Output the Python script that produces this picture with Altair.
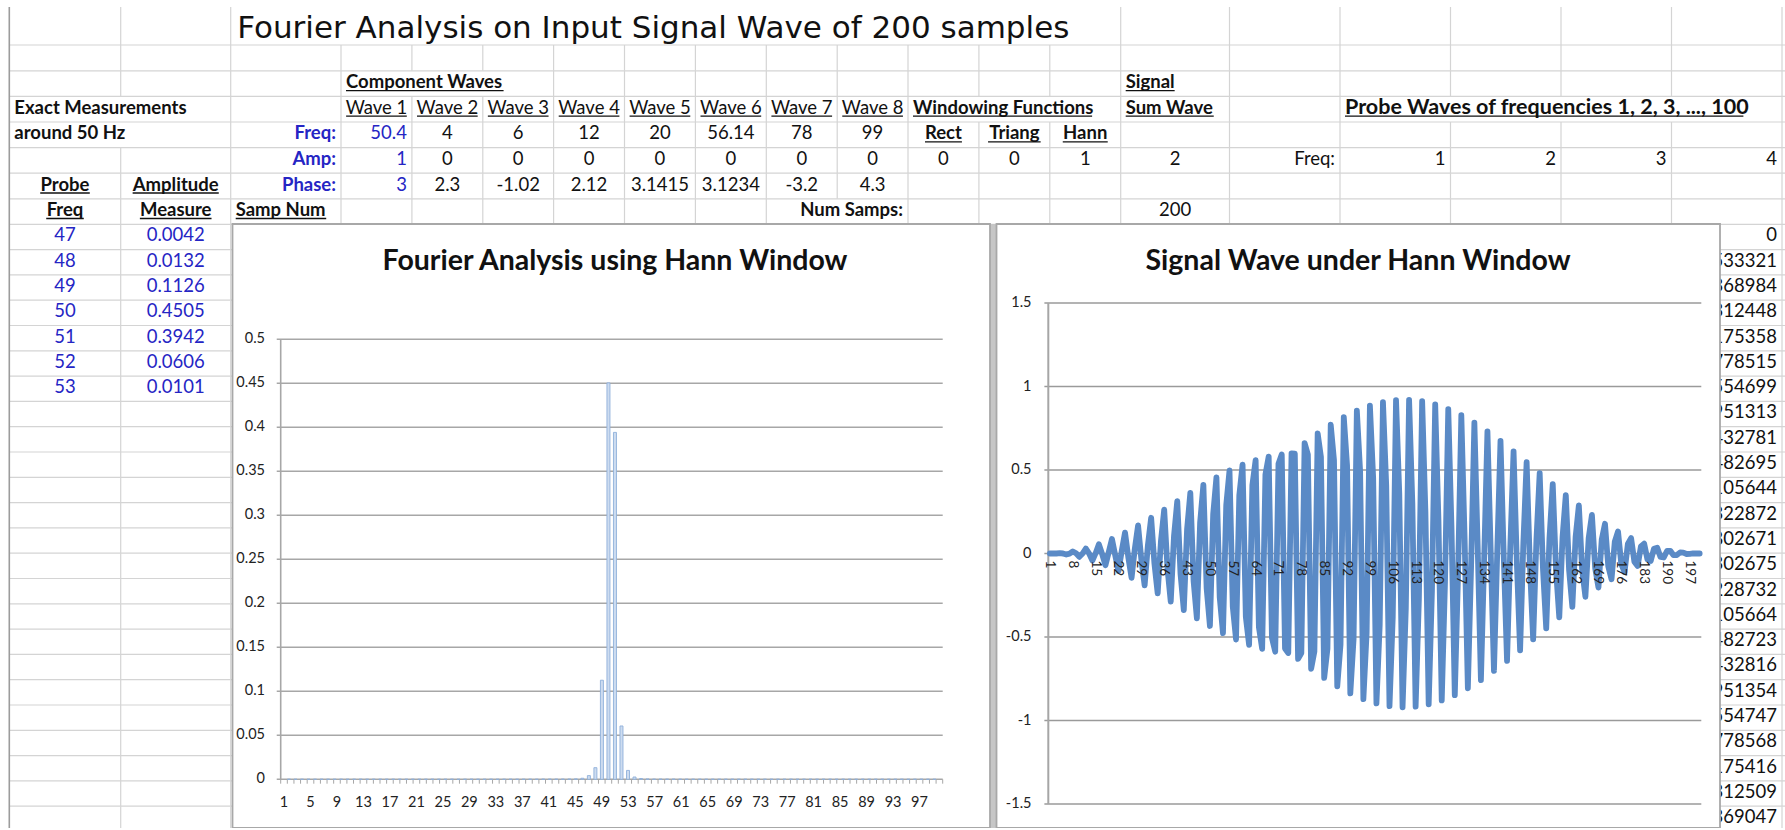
import altair as alt
import pandas as pd

# ------------------------------------------------------------------ data
TITLE = "Fourier Analysis on Input Signal Wave of 200 samples"
CHART1_TITLE = "Fourier Analysis using Hann Window"
CHART2_TITLE = "Signal Wave under Hann Window"

WAVE_NAMES = ["Wave 1", "Wave 2", "Wave 3", "Wave 4", "Wave 5", "Wave 6", "Wave 7", "Wave 8"]
WAVE_FREQ = ["50.4", "4", "6", "12", "20", "56.14", "78", "99"]
WAVE_AMP = ["1", "0", "0", "0", "0", "0", "0", "0"]
WAVE_PHASE = ["3", "2.3", "-1.02", "2.12", "3.1415", "3.1234", "-3.2", "4.3"]
WINDOW_NAMES = ["Rect", "Triang", "Hann"]
WINDOW_SEL = ["0", "0", "1"]
SUM_WAVE_SEL = "2"
NUM_SAMPS = "200"
PROBE_HEAD_FREQ = ["1", "2", "3", "4"]

PROBE_FREQ = ["47", "48", "49", "50", "51", "52", "53"]
AMP_MEASURE = ["0.0042", "0.0132", "0.1126", "0.4505", "0.3942", "0.0606", "0.0101"]

RIGHT_COL = ["0", "0.0533321", "0.0368984", "0.0312448", "0.0175358", "0.0778515",
             "0.0554699", "0.0951313", "0.0432781", "0.0482695", "0.0105644", "0.0322872",
             "0.0802671", "0.0302675", "0.0228732", "0.0105664", "0.0482723", "0.0432816",
             "0.0951354", "0.0554747", "0.0778568", "0.0175416", "0.0312509", "0.0369047"]

FOURIER_FREQ = list(range(1, 101))
FOURIER_AMP = [
    0.0001, 0.0001, 0.0001, 0.0001, 0.0001, 0.0001, 0.0001, 0.0001, 0.0001, 0.0001,
    0.0001, 0.0001, 0.0001, 0.0001, 0.0001, 0.0001, 0.0001, 0.0001, 0.0001, 0.0001,
    0.0001, 0.0001, 0.0001, 0.0001, 0.0001, 0.0001, 0.0001, 0.0001, 0.0001, 0.0001,
    0.0001, 0.0001, 0.0001, 0.0001, 0.0001, 0.0001, 0.0001, 0.0001, 0.0001, 0.0002,
    0.0002, 0.0002, 0.0002, 0.0003, 0.0005, 0.0012, 0.0042, 0.0132, 0.1126, 0.4505,
    0.3942, 0.0606, 0.0101, 0.0026, 0.0009, 0.0004, 0.0002, 0.0002, 0.0002, 0.0002,
    0.0001, 0.0001, 0.0001, 0.0001, 0.0001, 0.0001, 0.0001, 0.0001, 0.0001, 0.0001,
    0.0001, 0.0001, 0.0001, 0.0001, 0.0001, 0.0001, 0.0001, 0.0001, 0.0001, 0.0001,
    0.0001, 0.0001, 0.0001, 0.0001, 0.0001, 0.0001, 0.0001, 0.0001, 0.0001, 0.0001,
    0.0001, 0.0001, 0.0001, 0.0001, 0.0001, 0.0001, 0.0001, 0.0001, 0.0001, 0.0001,
]
FOURIER_Y_TICKS = [0, 0.05, 0.1, 0.15, 0.2, 0.25, 0.3, 0.35, 0.4, 0.45, 0.5]
FOURIER_Y_LABELS = ["0", "0.05", "0.1", "0.15", "0.2", "0.25", "0.3", "0.35", "0.4", "0.45", "0.5"]
FOURIER_X_LABELS = [1, 5, 9, 13, 17, 21, 25, 29, 33, 37, 41, 45, 49, 53, 57, 61, 65, 69,
                    73, 77, 81, 85, 89, 93, 97]

SAMPLE_NUM = list(range(1, 201))
SIGNAL = [
    0.000, -0.000, -0.000, 0.002, 0.000, -0.006, -0.001, 0.012,
    0.001, -0.020, -0.000, 0.030, -0.000, -0.042, 0.002, 0.055,
    -0.004, -0.070, 0.007, 0.087, -0.011, -0.105, 0.016, 0.125,
    -0.022, -0.146, 0.029, 0.168, -0.038, -0.191, 0.049, 0.214,
    -0.060, -0.239, 0.074, 0.263, -0.089, -0.288, 0.105, 0.314,
    -0.123, -0.339, 0.143, 0.363, -0.164, -0.388, 0.186, 0.411,
    -0.210, -0.434, 0.236, 0.456, -0.262, -0.477, 0.290, 0.497,
    -0.319, -0.515, 0.349, 0.532, -0.379, -0.547, 0.410, 0.559,
    -0.441, -0.571, 0.473, 0.580, -0.505, -0.588, 0.537, 0.593,
    -0.569, -0.596, 0.600, 0.598, -0.631, -0.596, 0.661, 0.593,
    -0.690, -0.587, 0.719, 0.579, -0.745, -0.570, 0.771, 0.558,
    -0.795, -0.545, 0.817, 0.529, -0.838, -0.512, 0.856, 0.493,
    -0.872, -0.473, 0.886, 0.451, -0.898, -0.429, 0.907, 0.405,
    -0.914, -0.380, 0.919, 0.355, -0.921, -0.328, 0.920, 0.302,
    -0.917, -0.275, 0.912, 0.249, -0.903, -0.222, 0.893, 0.195,
    -0.880, -0.170, 0.865, 0.144, -0.848, -0.119, 0.828, 0.096,
    -0.807, -0.073, 0.783, 0.051, -0.758, -0.031, 0.731, 0.011,
    -0.703, 0.006, 0.674, -0.023, -0.643, 0.037, 0.612, -0.051,
    -0.580, 0.062, 0.547, -0.072, -0.514, 0.080, 0.481, -0.087,
    -0.448, 0.092, 0.415, -0.096, -0.382, 0.098, 0.350, -0.098,
    -0.319, 0.098, 0.288, -0.096, -0.259, 0.092, 0.231, -0.088,
    -0.204, 0.083, 0.178, -0.077, -0.154, 0.071, 0.132, -0.064,
    -0.111, 0.057, 0.092, -0.049, -0.075, 0.042, 0.059, -0.035,
    -0.045, 0.028, 0.034, -0.021, -0.024, 0.015, 0.016, -0.010,
    -0.009, 0.006, 0.005, -0.003, -0.002, 0.001, 0.000, 0.000,
]
SIGNAL_Y_TICKS = [-1.5, -1, -0.5, 0, 0.5, 1, 1.5]
SIGNAL_Y_LABELS = ["-1.5", "-1", "-0.5", "0", "0.5", "1", "1.5"]
SIGNAL_X_LABELS = [1, 8, 15, 22, 29, 36, 43, 50, 57, 64, 71, 78, 85, 92, 99, 106, 113,
                   120, 127, 134, 141, 148, 155, 162, 169, 176, 183, 190, 197]

# ------------------------------------------------------------------ layout
W, H = 1785, 828
FONT = "Lato"
BLUE = "#2525c4"
BLACK = "#111111"
CELL_SIZE = 18.5

COL_EDGES = [9.3, 120.7, 230.7, 341.0, 411.9, 482.8, 553.6, 624.5, 695.4, 766.3,
             837.2, 908.0, 978.9, 1049.8, 1120.7, 1229.5, 1340.0, 1450.5, 1561.0,
             1671.5, 1782.0]
ROW_EDGES = [7.0, 45.0, 70.8, 96.4, 122.0, 147.6, 173.2, 198.8, 224.3]
while ROW_EDGES[-1] < 830:
    ROW_EDGES.append(round(ROW_EDGES[-1] + 25.3, 1))

# gridlines hidden by overflowing text: row -> edge indices
HIDDEN = {0: set(range(3, 14)), 2: {4, 5}, 3: {1, 12, 13, 17, 18, 19}, 4: {1}, 7: {10}}

SX = alt.Scale(domain=[0, W], range=[0, W])
SY = alt.Scale(domain=[0, 830], range=[0, 830])


def X(f, s):
    return alt.X(f, type="quantitative", scale=s, axis=None)


def Y(f, s):
    return alt.Y(f, type="quantitative", scale=s, axis=None)


def seg_layer(rows, xs, ys, color, width):
    return alt.Chart(pd.DataFrame(rows)).mark_rule(color=color, strokeWidth=width).encode(
        x=X("x", xs), x2="x2:Q", y=Y("y", ys), y2="y2:Q")


CW = {}
for ch, w in zip("abcdefghijklmnopqrstuvwxyz",
                 [.50, .56, .46, .56, .52, .32, .51, .56, .24, .24, .50, .24, .84, .56, .56,
                  .56, .56, .36, .42, .34, .56, .50, .76, .49, .50, .44]):
    CW[ch] = w
for ch, w in zip("ABCDEFGHIJKLMNOPQRSTUVWXYZ",
                 [.66, .63, .65, .73, .55, .53, .71, .74, .27, .38, .65, .49, .88, .74, .78,
                  .60, .78, .62, .52, .59, .72, .66, .99, .65, .62, .60]):
    CW[ch] = w
for ch in "0123456789":
    CW[ch] = .58
CW.update({" ": .19, ",": .22, ".": .22, ":": .22, "-": .35})


def text_width(s, size, bold):
    return sum(CW.get(c, .55) for c in s) * size * (1.03 if bold else 1.0)


# ------------------------------------------------------------------ sheet cells
cells = []


def add(row, col, text, align, bold=False, ul=False, color=BLACK, size=CELL_SIZE):
    cells.append(dict(row=row, col=col, text=text, align=align, bold=bold, ul=ul,
                      color=color, size=size))


add(2, 3, "Component Waves", "left", True, True)
add(2, 14, "Signal", "left", True, True)
add(3, 0, "Exact Measurements", "left", True)
for i, t in enumerate(WAVE_NAMES):
    add(3, 3 + i, t, "center", False, True)
add(3, 11, "Windowing Functions", "left", True, True)
add(3, 14, "Sum Wave", "left", True, True)
add(3, 16, "Probe Waves of frequencies 1, 2, 3, ..., 100", "left", True, True, size=21.5)
add(4, 0, "around 50 Hz", "left", True)
add(4, 2, "Freq:", "right", True, False, BLUE)
add(5, 2, "Amp:", "right", True, False, BLUE)
add(6, 2, "Phase:", "right", True, False, BLUE)
for r, vals in ((4, WAVE_FREQ), (5, WAVE_AMP), (6, WAVE_PHASE)):
    add(r, 3, vals[0], "right", False, False, BLUE)
    for i, t in enumerate(vals[1:]):
        add(r, 4 + i, t, "center")
for i, t in enumerate(WINDOW_NAMES):
    add(4, 11 + i, t, "center", True, True)
for i, t in enumerate(WINDOW_SEL):
    add(5, 11 + i, t, "center")
add(5, 14, SUM_WAVE_SEL, "center")
add(5, 15, "Freq:", "right")
for i, t in enumerate(PROBE_HEAD_FREQ):
    add(5, 16 + i, t, "right")
add(6, 0, "Probe", "center", True, True)
add(6, 1, "Amplitude", "center", True, True)
add(7, 0, "Freq", "center", True, True)
add(7, 1, "Measure", "center", True, True)
add(7, 2, "Samp Num", "left", True, True)
add(7, 10, "Num Samps:", "right", True)
add(7, 14, NUM_SAMPS, "center")
for i, (f, a) in enumerate(zip(PROBE_FREQ, AMP_MEASURE)):
    add(8 + i, 0, f, "center", color=BLUE)
    add(8 + i, 1, a, "center", color=BLUE)
for i, t in enumerate(RIGHT_COL):
    add(8 + i, 19, t, "right")

text_rows, ul_rows = [], []
for c in cells:
    l, r = COL_EDGES[c["col"]], COL_EDGES[c["col"] + 1]
    x = {"left": l + 5, "right": r - 5, "center": (l + r) / 2}[c["align"]]
    base = ROW_EDGES[c["row"] + 1] - 8.3
    text_rows.append(dict(x=x, y=base, text=c["text"], color=c["color"], size=c["size"],
                          al=c["align"], bold=c["bold"]))
    if c["ul"]:
        w = text_width(c["text"], c["size"], c["bold"])
        x0 = {"left": x, "right": x - w, "center": x - w / 2}[c["align"]]
        ul_rows.append(dict(x=x0, x2=x0 + w, y=base + 2.5, y2=base + 2.5))

layers = []

# grid
vseg, hseg = [], []
for ri in range(len(ROW_EDGES) - 1):
    for ei, xe in enumerate(COL_EDGES[1:], start=1):
        if ei in HIDDEN.get(ri, set()):
            continue
        vseg.append(dict(x=xe, x2=xe, y=ROW_EDGES[ri], y2=ROW_EDGES[ri + 1]))
for ye in ROW_EDGES[1:]:
    hseg.append(dict(x=COL_EDGES[0], x2=W, y=ye, y2=ye))
layers.append(seg_layer(vseg + hseg, SX, SY, "#d4d4d4", 1.2))
layers.append(seg_layer([dict(x=COL_EDGES[0], x2=COL_EDGES[0], y=ROW_EDGES[0], y2=830)],
                        SX, SY, "#9c9c9c", 1.6))

# sheet texts
tdf = pd.DataFrame(text_rows)
for align in ("left", "center", "right"):
    for bold in (False, True):
        sub = tdf[(tdf["al"] == align) & (tdf["bold"] == bold)]
        if len(sub) == 0:
            continue
        layers.append(
            alt.Chart(sub[["x", "y", "text", "color", "size"]]).mark_text(
                align=align, baseline="alphabetic", font=FONT,
                fontWeight="bold" if bold else "normal").encode(
                x=X("x", SX), y=Y("y", SY), text="text:N",
                color=alt.Color("color:N", scale=None),
                size=alt.Size("size:Q", scale=None)))
layers.append(seg_layer(ul_rows, SX, SY, BLACK, 1.3))

# big title
layers.append(alt.Chart(pd.DataFrame([dict(x=COL_EDGES[2] + 6.5, y=38, text=TITLE)])).mark_text(
    align="left", baseline="alphabetic", font="DejaVu Sans", fontSize=31, color=BLACK).encode(
    x=X("x", SX), y=Y("y", SY), text="text:N"))

# chart frames
frames = pd.DataFrame([dict(x=232.5, x2=990, y=224, y2=828), dict(x=996.5, x2=1720, y=224, y2=828)])
layers.append(alt.Chart(pd.DataFrame([dict(x=990, x2=996.5, y=224, y2=830)])).mark_rect(
    color="#c6c6c6").encode(x=X("x", SX), x2="x2:Q", y=Y("y", SY), y2="y2:Q"))
layers.append(alt.Chart(frames).mark_rect(fill="white", stroke="#a8a8a8", strokeWidth=1.8).encode(
    x=X("x", SX), x2="x2:Q", y=Y("y", SY), y2="y2:Q"))

# ------------------------------------------------------------------ chart 1 (Fourier)
X1 = alt.Scale(domain=[0.5, 100.5], range=[280.7, 942.7])
Y1 = alt.Scale(domain=[0, 0.5], range=[779.3, 339.3])
GRID1 = "#a7a7a7"
layers.append(seg_layer([dict(x=-0.1, x2=100.5, y=v, y2=v) for v in FOURIER_Y_TICKS[1:]],
                        X1, Y1, GRID1, 1.6))
layers.append(seg_layer([dict(x=0.5, x2=0.5, y=0, y2=0.5)], X1, Y1, GRID1, 1.6))
layers.append(seg_layer([dict(x=b + 0.5, x2=b + 0.5, y=0, y2=-0.005) for b in range(0, 101)],
                        X1, Y1, GRID1, 1.0))
layers.append(seg_layer([dict(x=-0.1, x2=100.5, y=0, y2=0)], X1, Y1, GRID1, 1.6))
layers.append(alt.Chart(pd.DataFrame(dict(freq=FOURIER_FREQ, amp=FOURIER_AMP))).mark_bar(
    size=3, fill="#cddcf0", stroke="#8fb0da", strokeWidth=0.9, orient="vertical").encode(
    x=X("freq", X1), y=Y("amp", Y1)))
layers.append(alt.Chart(pd.DataFrame(dict(v=FOURIER_Y_TICKS, t=FOURIER_Y_LABELS))).mark_text(
    align="right", baseline="middle", font=FONT, fontSize=14.5, color="#222222").encode(
    x=alt.value(265), y=Y("v", Y1), text="t:N"))
layers.append(alt.Chart(pd.DataFrame(dict(v=FOURIER_X_LABELS))).mark_text(
    align="center", baseline="middle", font=FONT, fontSize=14.5, color="#222222", dy=23.5).encode(
    x=X("v", X1), y=alt.value(779.3), text="v:N"))
layers.append(alt.Chart(pd.DataFrame([dict(t=CHART1_TITLE)])).mark_text(
    align="center", baseline="alphabetic", font=FONT, fontWeight="bold", fontSize=28.5,
    color=BLACK).encode(x=alt.value(615), y=alt.value(269.5), text="t:N"))

# ------------------------------------------------------------------ chart 2 (signal)
X2S = alt.Scale(domain=[0.5, 200.5], range=[1048.3, 1701.3])
Y2S = alt.Scale(domain=[-1.5, 1.5], range=[804, 303])
GRID2 = "#9a9a9a"
layers.append(seg_layer([dict(x=-0.7, x2=200.5, y=v, y2=v) for v in SIGNAL_Y_TICKS if v != 0],
                        X2S, Y2S, GRID2, 1.4))
layers.append(seg_layer([dict(x=0.5, x2=0.5, y=-1.5, y2=1.5)], X2S, Y2S, "#a6a6a6", 2.0))
layers.append(seg_layer([dict(x=-0.7, x2=200.5, y=0, y2=0)], X2S, Y2S, GRID2, 1.4))
layers.append(alt.Chart(pd.DataFrame(dict(n=SAMPLE_NUM, s=SIGNAL))).mark_line(
    color="#5a8ac6", strokeWidth=5.8, strokeJoin="round", strokeCap="round").encode(
    x=X("n", X2S), y=Y("s", Y2S)))
layers.append(alt.Chart(pd.DataFrame(dict(v=SIGNAL_Y_TICKS, t=SIGNAL_Y_LABELS))).mark_text(
    align="right", baseline="middle", font=FONT, fontSize=14.5, color="#222222").encode(
    x=alt.value(1031.5), y=Y("v", Y2S), text="t:N"))
layers.append(alt.Chart(pd.DataFrame(dict(v=SIGNAL_X_LABELS))).mark_text(
    align="left", baseline="middle", font=FONT, fontSize=13.5, color="#222222", angle=90,
    dx=7).encode(x=X("v", X2S), y=alt.value(553.5), text="v:N"))
layers.append(alt.Chart(pd.DataFrame([dict(t=CHART2_TITLE)])).mark_text(
    align="center", baseline="alphabetic", font=FONT, fontWeight="bold", fontSize=28.5,
    color=BLACK).encode(x=alt.value(1358), y=alt.value(270), text="t:N"))

chart = alt.layer(*layers).resolve_scale(x="independent", y="independent").properties(
    width=W, height=H, padding=0, background="white",
    autosize=alt.AutoSizeParams(type="none")).configure_view(strokeWidth=0)

chart.save("out.html", embed_options={"renderer": "svg", "actions": False})
